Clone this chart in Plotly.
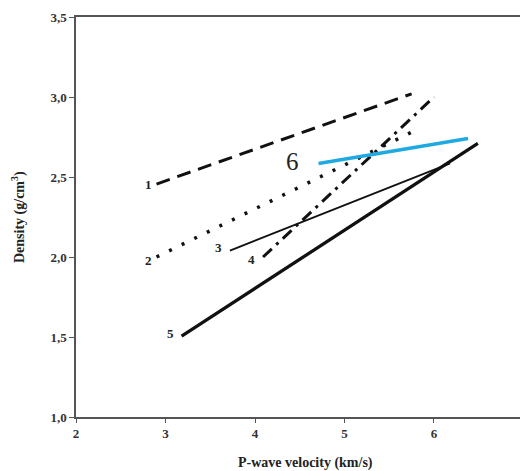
import plotly.graph_objects as go

# Data (P-wave velocity km/s, density g/cm3)
line_labels = ["1", "2", "3", "4", "5", "6"]
vp_1 = [2.90, 5.75]
rho_1 = [2.456, 3.02]
vp_2 = [2.90, 5.75]
rho_2 = [2.00, 2.78]
vp_3 = [3.72, 6.18]
rho_3 = [2.04, 2.585]
vp_4 = [4.09, 6.00]
rho_4 = [2.00, 3.00]
vp_5 = [3.18, 6.49]
rho_5 = [1.505, 2.71]
vp_6 = [4.71, 6.38]
rho_6 = [2.585, 2.74]
label6_pos = [4.42, 2.60]
x_ticks = [2, 3, 4, 5, 6, 7]
y_ticks = [1.0, 1.5, 2.0, 2.5, 3.0, 3.5]

SERIF = "Liberation Serif"
BLACK = "#111111"

series = [
    (vp_1, rho_1, dict(color=BLACK, width=3, dash="14px,8px")),
    (vp_2, rho_2, dict(color=BLACK, width=3.5, dash="3px,11px")),
    (vp_3, rho_3, dict(color=BLACK, width=1.8)),
    (vp_4, rho_4, dict(color=BLACK, width=3, dash="12px,6px,3px,6px")),
    (vp_5, rho_5, dict(color=BLACK, width=3.3)),
    (vp_6, rho_6, dict(color="#1fa9e1", width=3.5)),
]

fig = go.Figure()
for vx, ry, ln in series:
    fig.add_trace(go.Scatter(x=vx, y=ry, mode="lines", line=ln,
                             showlegend=False, hoverinfo="skip"))

annotations = []
shifts = {"1": (-3, 0), "2": (-3, -3), "3": (-6, 3), "4": (-6, -2), "5": (-6, 3)}
starts = [(vp_1, rho_1), (vp_2, rho_2), (vp_3, rho_3), (vp_4, rho_4), (vp_5, rho_5)]
for lab, (vx, ry) in zip(line_labels[:5], starts):
    xs, ys = shifts[lab]
    annotations.append(dict(x=vx[0], y=ry[0], xref="x", yref="y", text=lab,
                            showarrow=False, xanchor="right", yanchor="middle",
                            xshift=xs, yshift=ys,
                            font=dict(family=SERIF, size=13, color="#222222", weight="bold")))
annotations.append(dict(x=label6_pos[0], y=label6_pos[1], xref="x", yref="y",
                        text=line_labels[5], showarrow=False,
                        font=dict(family=SERIF, size=25, color="#222222")))
annotations.append(dict(x=0.518, y=-0.115, xref="paper", yref="paper",
                        text="P-wave velocity (km/s)", showarrow=False,
                        xanchor="center", yanchor="middle",
                        font=dict(family=SERIF, size=14, color="#222222", weight="bold")))
annotations.append(dict(x=-0.1306, y=0.5, xref="paper", yref="paper",
                        text="Density (g/cm<sup>3</sup>)", showarrow=False, textangle=-90,
                        xanchor="center", yanchor="middle",
                        font=dict(family=SERIF, size=14, color="#222222", weight="bold")))

fig.update_layout(
    width=520, height=471,
    margin=dict(l=76, r=0, t=17, b=54),
    paper_bgcolor="white", plot_bgcolor="white",
    separators=",.",
    annotations=annotations,
    xaxis=dict(range=[2, 6.961], tickvals=x_ticks, ticktext=[str(t) for t in x_ticks],
               showgrid=False, zeroline=False, showline=True, mirror=True,
               linecolor="#555555", linewidth=1.5, ticks="outside", ticklen=4,
               tickcolor="#555555",
               tickfont=dict(family=SERIF, size=13, color="#333333", weight="bold")),
    yaxis=dict(range=[1, 3.5], tickvals=y_ticks, tickformat=".1f",
               showgrid=False, zeroline=False, showline=True,
               linecolor="#555555", linewidth=1.5, ticks="outside", ticklen=5,
               tickcolor="#555555",
               tickfont=dict(family=SERIF, size=13, color="#333333", weight="bold")),
)

fig.write_html("out.html", config={"displayModeBar": False},
               post_script="document.body.style.margin='0';document.body.style.overflow='hidden';")
